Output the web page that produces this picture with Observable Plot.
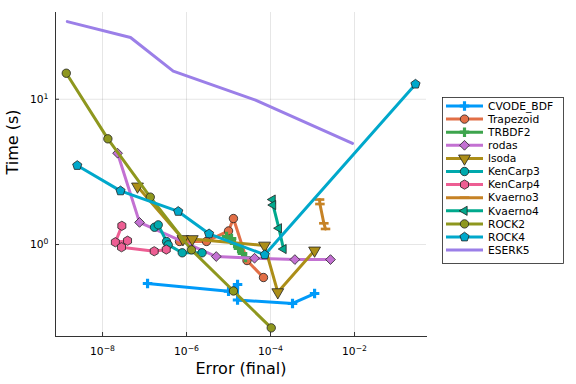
<!DOCTYPE html>
<html><head><meta charset="utf-8">
<script src="https://cdn.jsdelivr.net/npm/d3@7"></script>
<script src="https://cdn.jsdelivr.net/npm/@observablehq/plot@0.6"></script>
<style>body{margin:0;background:#fff}</style>
</head><body><div id="chart"></div>
<script>
// ---- data ----
const seriesNames  = ["CVODE_BDF","Trapezoid","TRBDF2","rodas","lsoda","KenCarp3","KenCarp4","Kvaerno3","Kvaerno4","ROCK2","ROCK4","ESERK5"];
const seriesColors = ["#009AF9","#E26F46","#3DA44D","#C371D2","#AC8E18","#00A9AD","#ED5E93","#C68225","#00A98D","#8E971E","#00A8CB","#9B7FE8"];
const seriesMarkers = ["cross","circle","cross","diamond","dtriangle","circle","hexagon","hline","ltriangle","circle","pentagon","none"];

const cvodeErr = [1.18e-7, 1.0e-5, 1.64e-5, 1.64e-5, 3.34e-4, 1.12e-3];
const cvodeTime = [0.539, 0.477, 0.531, 0.415, 0.393, 0.460];
const trapErr = [6.8e-7, 2.99e-6, 1.0e-5, 1.31e-5, 2.75e-5, 6.8e-5];
const trapTime = [1.05, 1.05, 1.24, 1.51, 0.776, 0.593];
const trbdf2Err = [8.96e-6, 1.18e-5, 1.39e-5, 1.73e-5, 2.15e-5, 2.54e-5];
const trbdf2Time = [1.135, 1.10, 1.016, 0.939, 0.867, 0.814];
const rodasErr = [2.28e-8, 7.6e-8, 5.1e-6, 4.16e-5, 3.8e-4, 2.68e-3];
const rodasTime = [4.25, 1.42, 0.827, 0.805, 0.788, 0.788];
const lsodaErr = [6.8e-8, 8.2e-7, 1.37e-6, 7.2e-5, 1.49e-4, 1.12e-3];
const lsodaTime = [2.51, 1.09, 1.09, 0.984, 0.47, 0.91];
const kenCarp3Err = [1.73e-7, 2.12e-7, 3.34e-7, 3.66e-7, 7.9e-7, 2.34e-6];
const kenCarp3Time = [1.315, 1.366, 1.049, 0.995, 0.877, 0.877];
const kenCarp4Err = [2.88e-8, 2.02e-8, 3.94e-8, 2.83e-8, 1.70e-7, 3.29e-7];
const kenCarp4Time = [1.345, 1.037, 1.062, 0.958, 0.899, 0.924];
const kvaerno3Err = [1.47e-3, 1.5e-3, 1.86e-3, 2.04e-3];
const kvaerno3Time = [2.04, 1.90, 1.40, 1.28];
const kvaerno4Err = [1.12e-4, 1.15e-4, 1.58e-4, 2.04e-4];
const kvaerno4Time = [2.04, 1.87, 1.295, 0.931];
const rock2Err = [1.37e-9, 1.34e-8, 1.37e-7, 1.31e-6, 1.31e-5, 1.04e-4];
const rock2Time = [15.1, 5.34, 2.12, 0.919, 0.479, 0.267];
const rock4Err = [2.5e-9, 2.68e-8, 6.34e-7, 3.44e-6, 7.3e-5, 0.283];
const rock4Time = [3.50, 2.34, 1.69, 1.185, 0.85, 12.7];
const eserk5Err = [1.45e-9, 4.64e-8, 4.82e-7, 4.4e-5, 8.95e-3];
const eserk5Time = [34.2, 26.6, 15.6, 9.86, 4.96];

const xTicks = [1e-8, 1e-6, 1e-4, 1e-2];
const yTicks = [1, 10];
const xDomain = [10 ** -9.12, 10 ** -0.286];
const yDomain = [10 ** -0.633, 10 ** 1.597];

const seriesErr = [cvodeErr, trapErr, trbdf2Err, rodasErr, lsodaErr, kenCarp3Err, kenCarp4Err, kvaerno3Err, kvaerno4Err, rock2Err, rock4Err, eserk5Err];
const seriesTime = [cvodeTime, trapTime, trbdf2Time, rodasTime, lsodaTime, kenCarp3Time, kenCarp4Time, kvaerno3Time, kvaerno4Time, rock2Time, rock4Time, eserk5Time];

// ---- custom symbols ----
function polygon(n, k) {
  return {draw(ctx, size) {
    const r = Math.sqrt(size / k);
    for (let i = 0; i < n; i++) {
      const a = 2 * Math.PI * i / n - Math.PI / 2;
      const x = r * Math.cos(a), y = r * Math.sin(a);
      i ? ctx.lineTo(x, y) : ctx.moveTo(x, y);
    }
    ctx.closePath();
  }};
}
const hexagonSym = polygon(6, 2.598);
const pentagonSym = polygon(5, 2.378);
const diamondSym = polygon(4, 2);
const hlineSym = {draw(ctx, size) { const w = Math.sqrt(size) * 1.25, h = w * 0.28; ctx.rect(-w / 2, -h / 2, w, h); }};
function markerSpec(m) {
  switch (m) {
    case "cross": return {symbol: d3.symbolCross, rotate: 0, outline: false, r: 4.0};
    case "circle": return {symbol: d3.symbolCircle, rotate: 0, outline: true, r: 4.2};
    case "diamond": return {symbol: diamondSym, rotate: 0, outline: true, r: 3.9};
    case "dtriangle": return {symbol: d3.symbolTriangle, rotate: 180, outline: true, r: 4.4};
    case "ltriangle": return {symbol: d3.symbolTriangle, rotate: -90, outline: true, r: 3.4};
    case "hexagon": return {symbol: hexagonSym, rotate: 0, outline: true, r: 4.2};
    case "pentagon": return {symbol: pentagonSym, rotate: 0, outline: true, r: 4.2};
    case "hline": return {symbol: hlineSym, rotate: 0, outline: false, r: 4.3};
    default: return null;
  }
}

const fmt = d => "10^" + String(Math.round(Math.log10(d))).replace("-", "\u2212");

const marks = [
  Plot.gridX({ticks: xTicks, strokeOpacity: 0.1}),
  Plot.gridY({ticks: yTicks, strokeOpacity: 0.1}),
  Plot.frame({anchor: "bottom", stroke: "#333"}),
  Plot.frame({anchor: "left", stroke: "#333"}),
  Plot.axisX({ticks: xTicks, tickSize: -4, tickPadding: 15, tickFormat: fmt, label: null, stroke: "#333"}),
  Plot.axisY({ticks: yTicks, tickSize: -4, tickPadding: 11, tickFormat: fmt, label: null, stroke: "#333"})
];

seriesNames.forEach((name, i) => {
  const pts = seriesErr[i].map((e, j) => ({err: e, time: seriesTime[i][j]}));
  const col = seriesColors[i];
  marks.push(Plot.line(pts, {x: "err", y: "time", stroke: col, strokeWidth: 3}));
  const spec = markerSpec(seriesMarkers[i]);
  if (spec) {
    marks.push(Plot.dot(pts, {
      x: "err", y: "time", symbol: spec.symbol, r: spec.r, rotate: spec.rotate,
      fill: col, stroke: spec.outline ? "#222" : "none", strokeWidth: 0.8
    }));
  }
});

marks.push(Plot.text(["Error (final)"], {text: d => d, frameAnchor: "bottom", dy: 37, fontSize: 16}));
marks.push(Plot.text(["Time (s)"], {text: d => d, frameAnchor: "left", dx: -43, rotate: -90, fontSize: 16}));

const chart = Plot.plot({
  width: 576, height: 384,
  marginLeft: 55, marginRight: 150, marginTop: 12, marginBottom: 48,
  style: {fontFamily: "DejaVu Sans", fontSize: "10.7px", background: "white", overflow: "visible"},
  x: {type: "log", domain: xDomain},
  y: {type: "log", domain: yDomain},
  marks
});
document.getElementById("chart").appendChild(chart);

// superscripts in tick labels
d3.select(chart).selectAll('g[aria-label="x-axis tick label"] text, g[aria-label="y-axis tick label"] text').each(function() {
  const t = this.textContent;
  if (t.indexOf("^") < 0) return;
  const [base, sup] = t.split("^");
  const sel = d3.select(this);
  sel.text(base);
  sel.append("tspan").attr("dy", "-0.5em").attr("font-size", "0.72em").text(sup);
});

// legend
const svg = d3.select(chart);
const lg = svg.append("g").attr("font-family", "DejaVu Sans").attr("font-size", "10.7px").attr("text-anchor", "start");
lg.append("rect").attr("x", 442.5).attr("y", 97.5).attr("width", 121).attr("height", 166)
  .attr("fill", "white").attr("stroke", "#222").attr("stroke-width", 0.8);
seriesNames.forEach((name, i) => {
  const y = 106 + i * 13.1;
  lg.append("line").attr("x1", 446).attr("x2", 483).attr("y1", y).attr("y2", y)
    .attr("stroke", seriesColors[i]).attr("stroke-width", 3);
  const spec = markerSpec(seriesMarkers[i]);
  if (spec) {
    lg.append("path").attr("d", d3.symbol().type(spec.symbol).size(spec.r * spec.r * Math.PI)())
      .attr("transform", `translate(464.5,${y}) rotate(${spec.rotate})`)
      .attr("fill", seriesColors[i]).attr("stroke", spec.outline ? "#222" : "none").attr("stroke-width", 0.8);
  }
  lg.append("text").attr("x", 488).attr("y", y).attr("dy", "0.35em").attr("text-anchor", "start").attr("fill", "black").text(name);
});
</script>
</body></html>
